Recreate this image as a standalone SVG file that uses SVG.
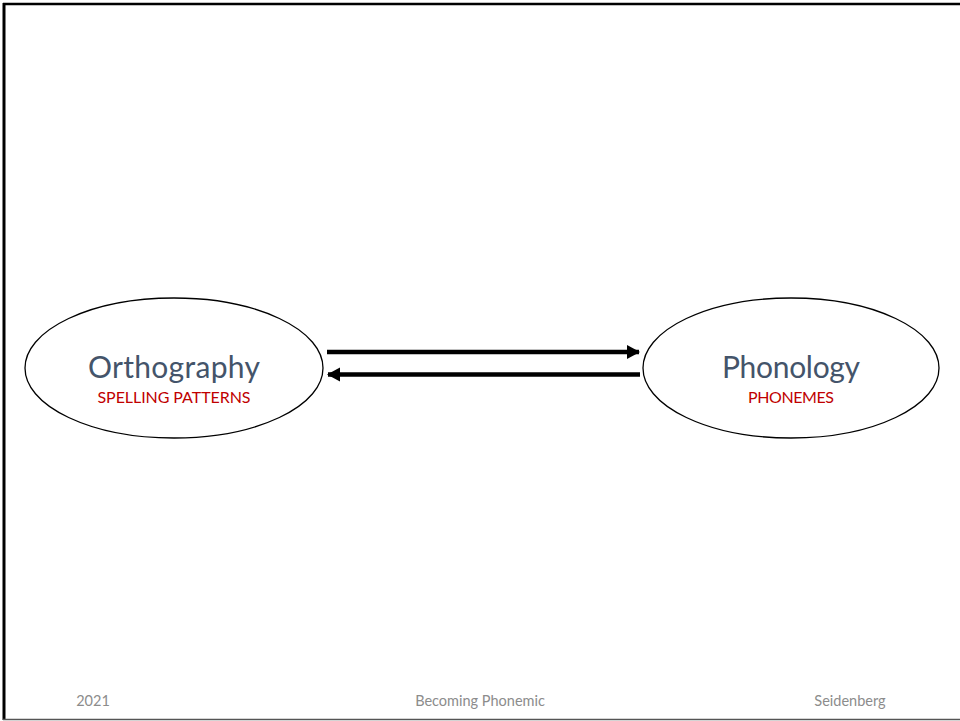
<svg xmlns="http://www.w3.org/2000/svg" width="960" height="721" viewBox="0 0 960 721">
  <defs>
    <style>
      .node { fill: #ffffff; stroke: #000000; stroke-width: 1.3; }
      .title { font-family: Lato, "Open Sans", sans-serif; font-size: 30px; fill: #44546A; text-anchor: middle; }
      .sub { font-family: Lato, "Open Sans", sans-serif; font-size: 16px; fill: #C00000; text-anchor: middle; }
      .foot { font-family: Lato, "Open Sans", sans-serif; font-size: 14.5px; fill: #8C8C8C; text-anchor: middle; }
      .conn { stroke: #000000; stroke-width: 4.5; fill: none; }
    </style>
    <marker id="arrow" markerUnits="userSpaceOnUse" markerWidth="15" markerHeight="15" refX="12" refY="7" orient="auto">
      <polygon points="0,0 13,7 0,14" fill="#000000"/>
    </marker>
  </defs>
  <rect x="0" y="0" width="960" height="721" fill="#ffffff"/>
  <g id="frame">
    <line x1="4" y1="3" x2="4" y2="720" stroke="#000000" stroke-width="3"/>
    <line x1="3" y1="4" x2="960" y2="4" stroke="#000000" stroke-width="2.5"/>
    <line x1="3" y1="719.5" x2="960" y2="719.5" stroke="#555555" stroke-width="1.5"/>
  </g>
  <g id="orthography">
    <ellipse class="node" cx="174" cy="368" rx="149" ry="70"/>
    <text class="title" x="174" y="378" textLength="172">Orthography</text>
    <text class="sub" x="174" y="403" textLength="153">SPELLING PATTERNS</text>
  </g>
  <g id="phonology">
    <ellipse class="node" cx="791" cy="368" rx="148" ry="70"/>
    <text class="title" x="791" y="378" textLength="138">Phonology</text>
    <text class="sub" x="791" y="403" textLength="86">PHONEMES</text>
  </g>
  <g id="connectors">
    <line class="conn" x1="327" y1="352" x2="639" y2="352" marker-end="url(#arrow)"/>
    <line class="conn" x1="640" y1="374.5" x2="328" y2="374.5" marker-end="url(#arrow)"/>
  </g>
  <g id="footer">
    <text class="foot" x="93" y="706">2021</text>
    <text class="foot" x="480" y="706">Becoming Phonemic</text>
    <text class="foot" x="850" y="706">Seidenberg</text>
  </g>
</svg>
